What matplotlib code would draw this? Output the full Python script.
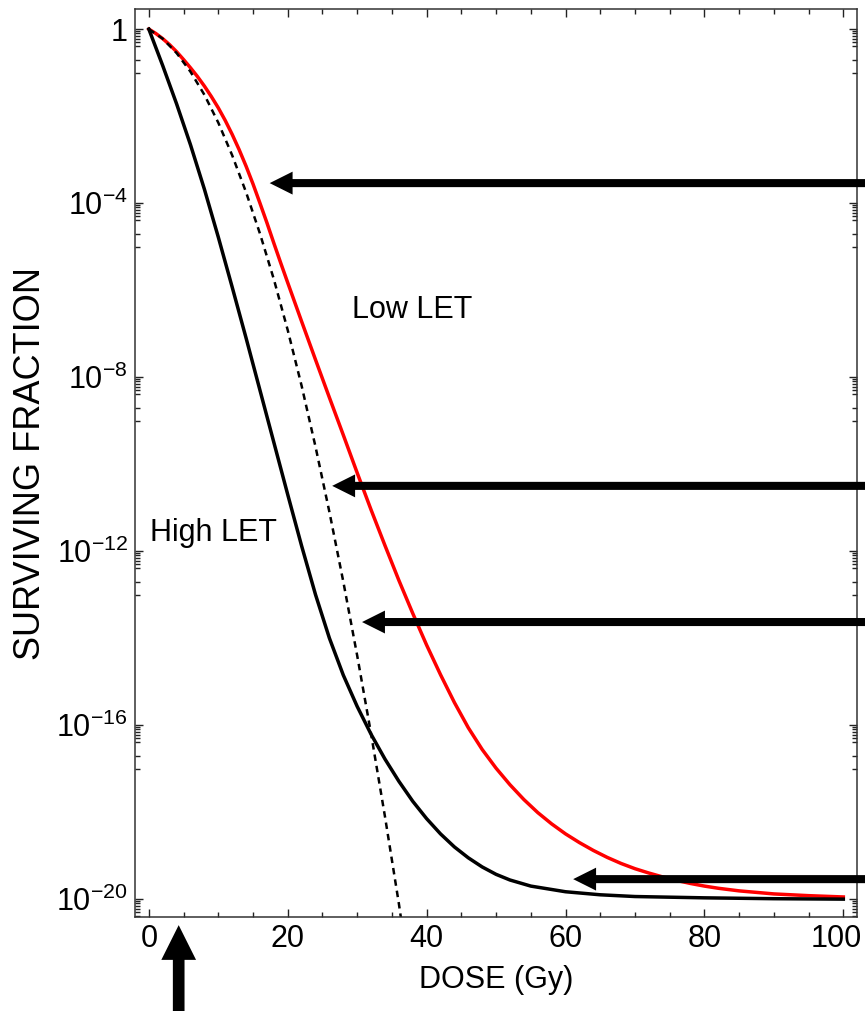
import matplotlib
matplotlib.use("Agg")
import matplotlib.pyplot as plt
import matplotlib.transforms as mtransforms
from matplotlib.ticker import FixedLocator, NullFormatter
import numpy as np

plt.rcParams["font.family"] = ["Liberation Sans", "DejaVu Sans"]
plt.rcParams["mathtext.fontset"] = "custom"
plt.rcParams["mathtext.rm"] = "Liberation Sans"
plt.rcParams["mathtext.it"] = "Liberation Sans:italic"

# dose (Gy) and log10 of surviving fraction
high_dose = [0, 2, 4, 6, 8, 10, 12, 14, 16, 18, 20, 22, 24, 26, 28, 30, 32, 34, 36,
             38, 40, 42, 44, 46, 48, 50, 52, 55, 60, 65, 70, 80, 90, 100]
high_log = [0, -0.84, -1.72, -2.66, -3.68, -4.78, -5.93, -7.1, -8.3, -9.5, -10.7, -11.88,
            -13.0, -14.0, -14.85, -15.57, -16.21, -16.78, -17.29, -17.75, -18.15, -18.5,
            -18.8, -19.05, -19.26, -19.43, -19.56, -19.7, -19.83, -19.9, -19.94, -19.97,
            -19.99, -20.0]

low_dose = [0, 1, 2, 3, 4, 5, 6, 7, 8, 9, 10, 11, 12, 13, 14, 15, 16, 17, 18, 19, 20,
            22, 24, 26, 28, 30, 32, 34, 36, 38, 40, 42, 44, 46, 48, 50, 52, 54, 56, 58,
            60, 62, 64, 66, 68, 70, 72, 74, 76, 78, 80, 82, 85, 90, 95, 100]
low_log = [0, -0.1, -0.22, -0.36, -0.52, -0.7, -0.89, -1.09, -1.31, -1.55, -1.81, -2.1,
           -2.42, -2.77, -3.15, -3.56, -4.0, -4.45, -4.92, -5.38, -5.83, -6.72, -7.6,
           -8.47, -9.33, -10.2, -11.05, -11.87, -12.67, -13.43, -14.16, -14.84, -15.48,
           -16.06, -16.56, -16.99, -17.37, -17.71, -18.01, -18.27, -18.5, -18.7, -18.88,
           -19.04, -19.18, -19.3, -19.4, -19.49, -19.57, -19.64, -19.7, -19.75, -19.81,
           -19.88, -19.92, -19.95]

lq_dose = [0, 2, 4, 6, 8, 10, 12, 14, 16, 18, 20, 22, 24, 26, 28, 30, 32, 34, 36, 37]
lq_log = [0, -0.22, -0.55, -0.98, -1.51, -2.15, -2.9, -3.75, -4.7, -5.75, -6.92, -8.2,
          -9.6, -11.1, -12.7, -14.4, -16.2, -18.1, -20.1, -21.2]

# arrow tips (dose, log10 fraction)
arrow_dose = [17.4, 26.4, 30.7, 61.1]
arrow_log = [-3.54, -10.5, -13.63, -19.54]
up_arrow_dose = 4.3

major_exp = [0, -4, -8, -12, -16, -20]
major_labels = ["1", "$10^{-4}$", "$10^{-8}$", "$10^{-12}$", "$10^{-16}$", "$10^{-20}$"]
minor_mult = [0.9, 0.8, 0.7, 0.6, 0.5, 0.4, 0.2, 0.1]


def main():
    fig = plt.figure(figsize=(8.65, 10.11), dpi=100)
    ax = fig.add_axes([0.156, 0.093, 0.835, 0.898])

    ax.semilogy(low_dose, 10.0 ** np.array(low_log), color="#ff0000", lw=2.5)
    ax.semilogy(high_dose, 10.0 ** np.array(high_log), color="black", lw=2.5)
    ax.semilogy(lq_dose, 10.0 ** np.array(lq_log), color="black", lw=1.8,
                ls=(0, (2.6, 2.0)))

    ax.set_xlim(-2.0, 102.0)
    ax.set_ylim(10 ** -20.41, 10 ** 0.46)

    ax.xaxis.set_major_locator(FixedLocator([0, 20, 40, 60, 80, 100]))
    ax.xaxis.set_minor_locator(FixedLocator(np.arange(0, 101, 5)))
    ax.yaxis.set_major_locator(FixedLocator([10.0 ** e for e in major_exp]))
    ax.set_yticklabels(major_labels)
    ax.yaxis.set_minor_locator(FixedLocator([m * 10.0 ** e for e in major_exp for m in minor_mult]))
    ax.yaxis.set_minor_formatter(NullFormatter())

    ax.tick_params(which="both", direction="in", top=True, right=True, width=1.0,
                   colors="#222222", labelcolor="black", labelsize=22)
    ax.tick_params(which="major", length=6, pad=5)
    ax.tick_params(which="minor", length=3.5)
    for s in ax.spines.values():
        s.set_linewidth(1.1)
        s.set_color("#333333")

    # the last x label sits against the right edge of the picture
    last = ax.get_xticklabels()[-1]
    last.set_transform(last.get_transform() + mtransforms.ScaledTranslation(-5 / 72, 0, fig.dpi_scale_trans))

    ax.set_xlabel("DOSE (Gy)", fontsize=22, labelpad=8)
    ax.set_ylabel("SURVIVING FRACTION", fontsize=26, labelpad=6)

    ax.text(29.25, 10 ** -6.64, "Low LET", fontsize=22, ha="left", va="baseline")
    ax.text(0.14, 10 ** -11.77, "High LET", fontsize=22, ha="left", va="baseline")

    style = "simple,head_length=16.5,head_width=16.5,tail_width=5.8"
    for d, l in zip(arrow_dose, arrow_log):
        ax.annotate("", xy=(d, 10 ** l), xytext=(108, 10 ** l),
                    arrowprops=dict(arrowstyle=style, color="black", lw=0,
                                    mutation_scale=1, shrinkA=0, shrinkB=0),
                    annotation_clip=False)

    ax.annotate("", xy=(up_arrow_dose, -0.009), xytext=(up_arrow_dose, -0.13),
                xycoords=("data", "axes fraction"), textcoords=("data", "axes fraction"),
                arrowprops=dict(arrowstyle="simple,head_length=25,head_width=25,tail_width=8.4",
                                color="black", lw=0, mutation_scale=1, shrinkA=0, shrinkB=0),
                annotation_clip=False)

    fig.savefig("out.png", dpi=100)


if __name__ == "__main__":
    main()
